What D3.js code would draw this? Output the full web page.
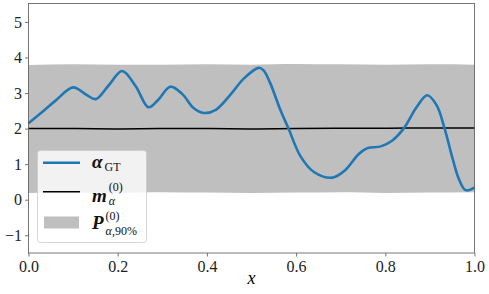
<!DOCTYPE html>
<html>
<head>
<meta charset="utf-8">
<script src="https://cdn.jsdelivr.net/npm/d3@7"></script>
<style>
  body { margin: 0; background: #fff; }
  svg text { font-family: "Liberation Serif", "Times New Roman", serif; }
</style>
</head>
<body>
<svg width="489" height="294"></svg>
<script>
const gtX = [0.00, 0.03, 0.06, 0.10, 0.13, 0.151, 0.18, 0.21, 0.24, 0.269, 0.29, 0.318, 0.345, 0.37, 0.393,
             0.42, 0.457, 0.482, 0.516, 0.527, 0.542, 0.563, 0.583, 0.61, 0.64, 0.681, 0.71, 0.74, 0.76, 0.79, 0.815,
             0.841, 0.87, 0.894, 0.915, 0.933, 0.95, 0.965, 0.98, 1.00];
const gtY = [2.15, 2.46, 2.78, 3.16, 2.95, 2.83, 3.22, 3.62, 3.20, 2.60, 2.80, 3.18, 2.97, 2.58, 2.44,
             2.53, 3.02, 3.40, 3.71, 3.64, 3.28, 2.58, 2.00, 1.22, 0.78, 0.62, 0.83, 1.28, 1.45, 1.50, 1.66,
             2.00, 2.60, 2.94, 2.66, 2.00, 1.20, 0.58, 0.27, 0.34];

// prior mean and 90% band
const priorX = [0.0, 0.1, 0.2, 0.3, 0.4, 0.5, 0.6, 0.7, 0.8, 0.9, 1.0];
const meanY  = [2.00, 2.00, 1.99, 2.00, 2.00, 1.99, 2.00, 2.01, 2.01, 2.02, 2.02];
const upperY = [3.79, 3.81, 3.80, 3.80, 3.81, 3.80, 3.82, 3.81, 3.80, 3.81, 3.80];
const lowerY = [0.19, 0.20, 0.19, 0.21, 0.20, 0.19, 0.20, 0.21, 0.19, 0.20, 0.21];

const xTicks = [0, 0.2, 0.4, 0.6, 0.8, 1.0];
const yTicks = [-1, 0, 1, 2, 3, 4, 5];

const svg = d3.select("svg");
const serif = '"Liberation Serif", "Times New Roman", serif';
const mLeft = 28.5, mRight = 474.5, mTop = 3.5, mBottom = 253;

const x = d3.scaleLinear().domain([0, 1]).range([mLeft, mRight]);
const y = d3.scaleLinear().domain([-1.5, 5.52]).range([mBottom, mTop]);

const band = priorX.map((v, i) => ({ x: v, lo: lowerY[i], hi: upperY[i], m: meanY[i] }));
const gt = gtX.map((v, i) => ({ x: v, y: gtY[i] }));

// band
svg.append("path")
  .datum(band)
  .attr("fill", "#bfbfbf")
  .attr("d", d3.area().x(d => x(d.x)).y0(d => y(d.lo)).y1(d => y(d.hi)).curve(d3.curveMonotoneX));

// mean
svg.append("path")
  .datum(band)
  .attr("fill", "none")
  .attr("stroke", "#000")
  .attr("stroke-width", 1.5)
  .attr("d", d3.line().x(d => x(d.x)).y(d => y(d.m)).curve(d3.curveMonotoneX));

// ground truth
svg.append("path")
  .datum(gt)
  .attr("fill", "none")
  .attr("stroke", "#1f77b4")
  .attr("stroke-width", 2.6)
  .attr("d", d3.line().x(d => x(d.x)).y(d => y(d.y)).curve(d3.curveCatmullRom.alpha(0.5)));

// axes
const xAxis = svg.append("g")
  .attr("transform", `translate(0,${mBottom})`)
  .call(d3.axisBottom(x).tickValues(xTicks).tickFormat(d3.format(".1f")).tickSize(3.5).tickPadding(4));
const yAxis = svg.append("g")
  .attr("transform", `translate(${mLeft},0)`)
  .call(d3.axisLeft(y).tickValues(yTicks).tickFormat(d => d < 0 ? "\u2212" + Math.abs(d) : d).tickSize(3.5).tickPadding(3));

[xAxis, yAxis].forEach(g => {
  g.attr("font-family", serif);
  g.select(".domain").remove();
  g.selectAll("line").attr("stroke", "#555").attr("stroke-width", 0.8);
  g.selectAll("text").attr("font-size", 16).attr("fill", "#222");
});

svg.append("rect")
  .attr("x", mLeft).attr("y", mTop)
  .attr("width", mRight - mLeft).attr("height", mBottom - mTop)
  .attr("fill", "none").attr("stroke", "#555").attr("stroke-width", 0.8);

svg.append("text")
  .attr("x", (mLeft + mRight) / 2).attr("y", 284)
  .attr("text-anchor", "middle")
  .attr("font-family", serif)
  .attr("font-size", 18).attr("font-style", "italic")
  .text("x");

// legend
const lg = svg.append("g").attr("font-family", serif).attr("fill", "#111");
lg.append("rect")
  .attr("x", 37.5).attr("y", 150.5).attr("width", 109).attr("height", 92).attr("rx", 3)
  .attr("fill", "#fff").attr("fill-opacity", 0.8)
  .attr("stroke", "#ccc").attr("stroke-width", 0.8);

lg.append("line").attr("x1", 43).attr("x2", 80).attr("y1", 162.7).attr("y2", 162.7)
  .attr("stroke", "#1f77b4").attr("stroke-width", 2.6);
lg.append("line").attr("x1", 43).attr("x2", 80).attr("y1", 191.7).attr("y2", 191.7)
  .attr("stroke", "#000").attr("stroke-width", 1.5);
lg.append("rect").attr("x", 44).attr("y", 216.5).attr("width", 35).attr("height", 12)
  .attr("fill", "#bfbfbf");

// main symbol with scripts placed after its measured width
function mathLabel(sym, bx, by, sup, supDy, sub, subDy) {
  const s = lg.append("text").attr("x", bx).attr("y", by)
    .attr("font-size", 19).attr("font-weight", "bold").attr("font-style", "italic").text(sym);
  const sx = bx + s.node().getComputedTextLength() + 2;
  if (sup) lg.append("text").attr("x", sx).attr("y", by + supDy).attr("font-size", 12).text(sup);
  if (sub) {
    const t = lg.append("text").attr("x", sx).attr("y", by + subDy).attr("font-size", 12);
    sub.forEach(p => t.append("tspan").attr("font-style", p.italic ? "italic" : "normal").text(p.t));
  }
}
mathLabel("α", 92, 168, null, 0, [{ t: "GT" }], 3);
mathLabel("m", 92, 202, "(0)", -11, [{ t: "α", italic: true }], 2.5);
mathLabel("P", 92, 229, "(0)", -9.5, [{ t: "α", italic: true }, { t: ",90%" }], 6);
</script>
</body>
</html>
